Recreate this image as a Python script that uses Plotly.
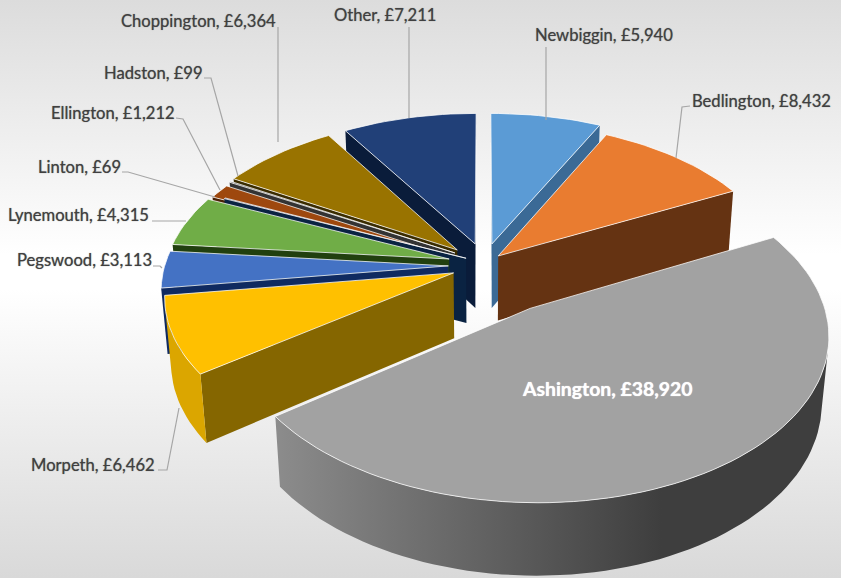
import math
import plotly.graph_objects as go

# ---- data ----
names = ["Newbiggin", "Bedlington", "Ashington", "Morpeth", "Pegswood", "Lynemouth",
         "Linton", "Ellington", "Hadston", "Choppington", "Other"]
values = [5940, 8432, 38920, 6462, 3113, 4315, 69, 1212, 99, 6364, 7211]

# ---- styling ----
top_colors = ["#5b9bd5", "#e97c30", "#a2a2a2", "#ffc000", "#4472c4", "#70ad47",
              "#264478", "#9e480e", "#636363", "#997300", "#214078"]
wall_colors = ["#3b6a96", "#653312", "#707070", "#856600", "#0f2a60", "#21400f",
               "#0a2342", "#4a2206", "#333333", "#3a2c00", "#0a1c3a"]
rim_colors = ["#3b6a96", "#8a4a1c", None, "#dba600", "#2a4a85", "#4b7a2e",
              "#1a3055", "#6e3209", "#444444", "#6b5000", "#162c55"]
# explosion of each slice on the pie's ground plane (right, away)
pull_x = [0.032, 0.054, 0.16, -0.103, -0.122, -0.12, -0.06, -0.108, -0.10, -0.092, -0.028]
pull_y = [0.10, 0.02, -0.31, -0.09, -0.045, 0.0, 0.005, 0.012, 0.04, 0.06, 0.10]

ELEV = math.radians(30)
S, C = math.sin(ELEV), math.cos(ELEV)
D, FX, FY = 6.28, 1771, 1915
CX, CY = 483, 259
H = 0.25


def project(X, Y, Z=0.0):
    w = D + Y * C - Z * S
    return CX + FX * X / w, CY - FY * (Y * S + Z * C) / w


cam = (0.0, -D * C)


def faces_camera(nx, ny, px, py):
    return nx * (cam[0] - px) + ny * (cam[1] - py) > 0


def poly(pts, fill=None, line=None, gradient=None, lw=1):
    xs = [p[0] for p in pts] + [pts[0][0]]
    ys = [p[1] for p in pts] + [pts[0][1]]
    kw = dict(x=xs, y=ys, mode="lines", fill="toself", hoverinfo="skip", showlegend=False,
              line=dict(color=line or "rgba(0,0,0,0)", width=lw if line else 0))
    if gradient:
        kw["fillgradient"] = gradient
    else:
        kw["fillcolor"] = fill
    return go.Scatter(**kw)


fig = go.Figure()

# background
fig.add_trace(poly([(0, 0), (841, 0), (841, 578), (0, 578)],
                   gradient=dict(type="vertical",
                                 colorscale=[[0, "#d9d9d9"], [0.5, "#ffffff"], [0.56, "#ffffff"], [1, "#dcdcdc"]])))

total = sum(values)
angles = []
a = 0.0
for v in values:
    b = a + v / total * 2 * math.pi
    angles.append((a, b))
    a = b

order = sorted(range(len(values)), key=lambda i: -math.cos(sum(angles[i]) / 2))

for i in order:
    a0, a1 = angles[i]
    ox, oy = pull_x[i], pull_y[i]
    n = max(3, int((a1 - a0) / math.radians(2)) + 1)
    arc = [a0 + (a1 - a0) * k / n for k in range(n + 1)]
    pt = lambda an: (ox + math.sin(an), oy + math.cos(an))
    # radial walls
    for an, nx, ny in ((a0, -math.cos(a0), math.sin(a0)), (a1, math.cos(a1), -math.sin(a1))):
        px, py = pt(an)
        if faces_camera(nx, ny, (px + ox) / 2, (py + oy) / 2):
            fig.add_trace(poly([project(ox, oy), project(px, py), project(px, py, -H), project(ox, oy, -H)],
                               fill=wall_colors[i]))
    # rim
    front = [an for an in arc if faces_camera(math.sin(an), math.cos(an), *pt(an))]
    if len(front) >= 2:
        upper = [project(*pt(an)) for an in front]
        lower = [project(*pt(an), -H) for an in reversed(front)]
        if rim_colors[i] is None:
            fig.add_trace(poly(upper + lower,
                               gradient=dict(type="horizontal",
                                             colorscale=[[0, "#8c8c8c"], [0.7, "#3e3e3e"], [1, "#3e3e3e"]])))
        else:
            fig.add_trace(poly(upper + lower, fill=rim_colors[i]))
    # top face
    top = [project(ox, oy)] + [project(*pt(an)) for an in arc]
    fig.add_trace(poly(top, fill=top_colors[i], line="rgba(255,255,255,0.75)", lw=1))

# leader lines
leaders = {
    "Newbiggin": [(546, 47), (546, 120)],
    "Bedlington": [(690, 106), (682, 107), (676, 158)],
    "Other": [(409, 27), (409, 118)],
    "Choppington": [(278, 27), (278, 142)],
    "Hadston": [(204, 78), (211, 78), (238, 176)],
    "Ellington": [(176, 118), (183, 119), (220, 190)],
    "Linton": [(122, 172), (128, 172), (215, 197)],
    "Lynemouth": [(152, 221), (186, 221)],
    "Pegswood": [(153, 266), (160, 266), (162, 268)],
    "Morpeth": [(158, 470), (167, 470), (179, 408)],
}
for pts in leaders.values():
    fig.add_trace(go.Scatter(x=[p[0] for p in pts], y=[p[1] for p in pts], mode="lines",
                             line=dict(color="#a6a6a6", width=1.2), hoverinfo="skip", showlegend=False))

label_pos = {
    "Newbiggin": (533, 35), "Bedlington": (690, 101), "Other": (332, 15), "Choppington": (119, 21),
    "Hadston": (102, 73), "Ellington": (49, 113), "Linton": (36, 167), "Lynemouth": (6, 215),
    "Pegswood": (15, 260), "Morpeth": (29, 465), "Ashington": (520, 388),
}
for name, v in zip(names, values):
    x, y = label_pos[name]
    big = name == "Ashington"
    fig.add_annotation(x=x, y=y, xref="x", yref="y", xanchor="left", yanchor="middle",
                       text=f"{name}, £{v:,}", showarrow=False,
                       font=dict(family="Lato", size=19.4 if big else 16.6,
                                 color="#ffffff" if big else "#404040",
                                 weight="bold" if big else "normal",
                                 shadow="0 0 1px #ffffff" if big else "0 0 1px #777777"))

fig.update_layout(width=841, height=578, margin=dict(l=0, r=0, t=0, b=0),
                  paper_bgcolor="#ffffff", plot_bgcolor="#ffffff", showlegend=False,
                  xaxis=dict(range=[0, 841], visible=False, fixedrange=True),
                  yaxis=dict(range=[578, 0], visible=False, fixedrange=True))
fig.write_html("out.html", config={"displayModeBar": False},
               post_script="document.body.style.margin='0';document.documentElement.style.overflow='hidden';")
